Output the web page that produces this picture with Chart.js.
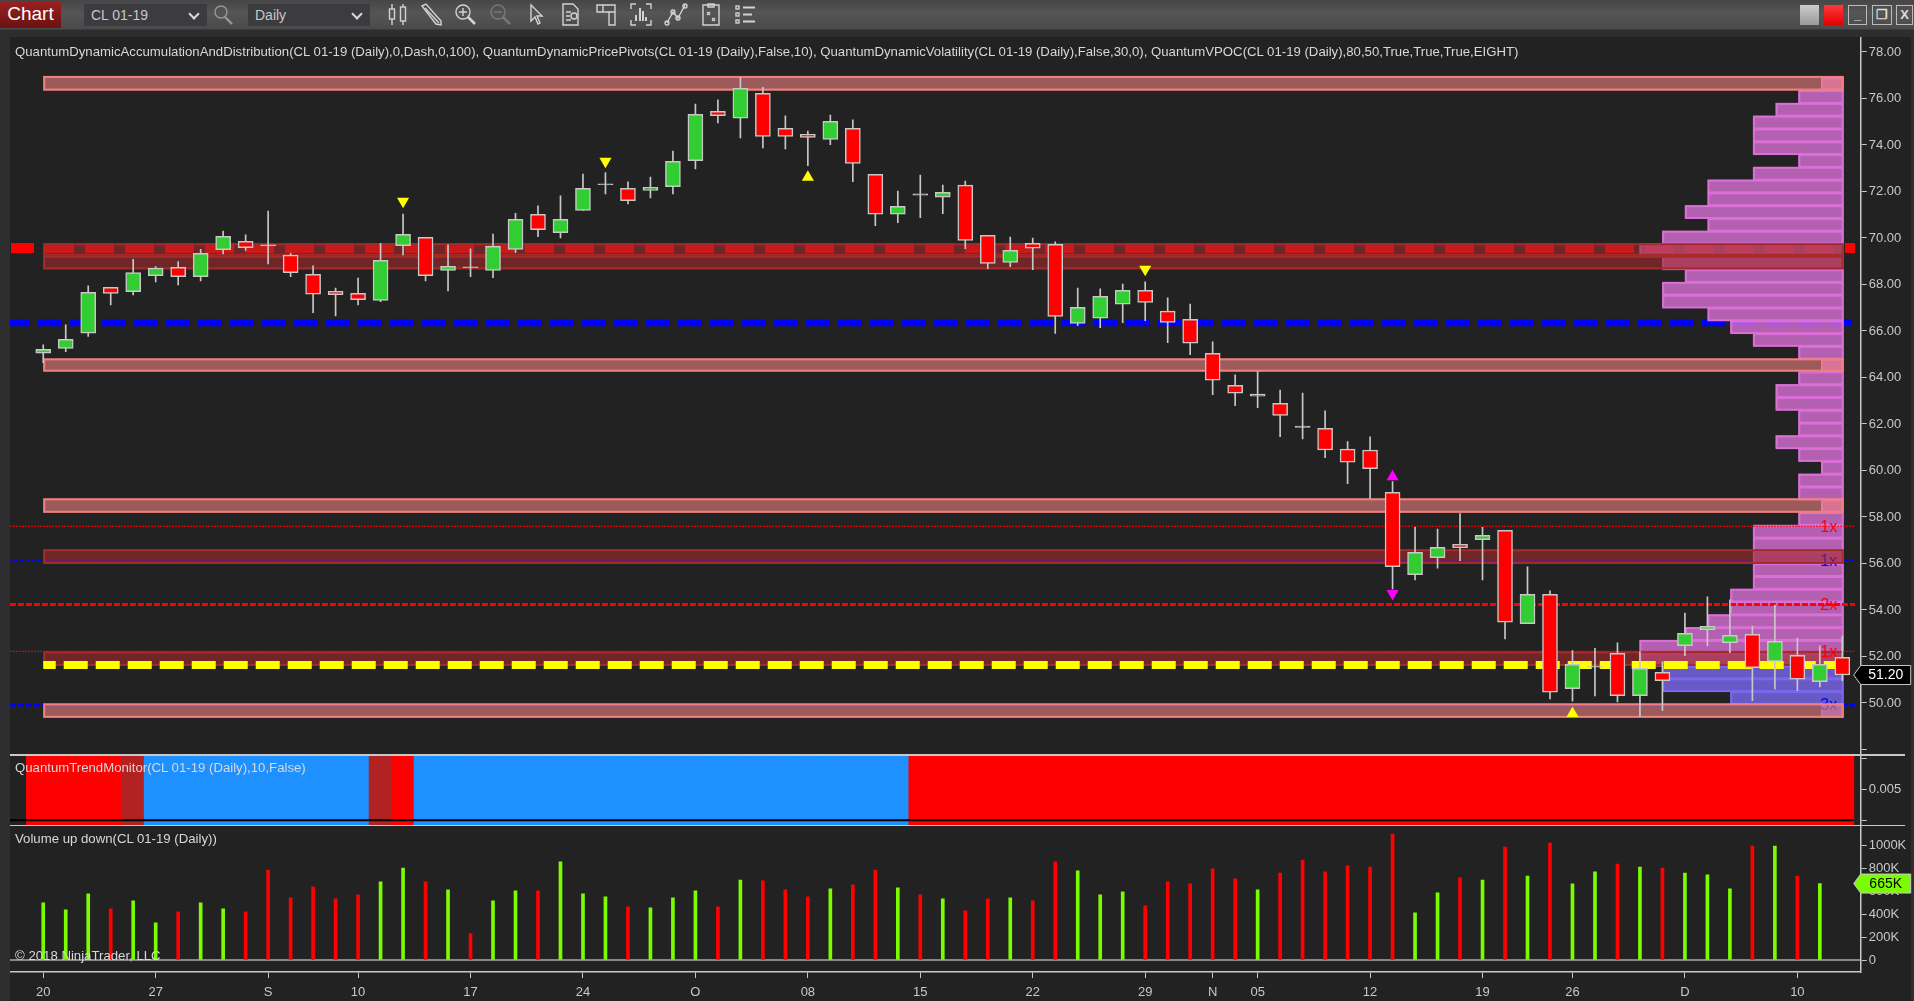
<!DOCTYPE html>
<html>
<head>
<meta charset="utf-8">
<title>CL 01-19 Daily</title>
<script src="https://cdn.jsdelivr.net/npm/chart.js@4"></script>
<style>
html,body{margin:0;padding:0;width:1914px;height:1001px;overflow:hidden;background:#2e2e31;font-family:"Liberation Sans",Arial,sans-serif;color:#d8d8d8}
#toolbar{position:absolute;left:0;top:0;width:1914px;height:29px;background:linear-gradient(#464646,#555 45%,#4a4a4a);border-bottom:1px solid #3a3a3a}
#toolbar svg{position:absolute;top:3px;width:24px;height:23px;fill:none;stroke:#d2d2d2;stroke-width:1.4}
.btn-chart{position:absolute;left:0;top:1px;width:61px;height:27px;background:linear-gradient(#9c2020,#6b1212);color:#fff;font-size:19px;line-height:26px;text-align:center}
.sel{position:absolute;top:4px;height:22px;background:#3c3c40;color:#c8c8c8;font-size:14px;line-height:22px;padding-left:7px;box-sizing:border-box}
.sel:after{content:"";position:absolute;right:9px;top:6px;width:6px;height:6px;border:solid #d8d8d8;border-width:0 2px 2px 0;transform:rotate(45deg)}
.winbtn{position:absolute;top:5px;height:20px;box-sizing:border-box;border:1px solid #bbb;color:#ddd;font-size:13px;line-height:17px;text-align:center;font-weight:bold}
#panelbg{position:absolute;left:10px;top:37px;width:1901px;height:964px;background:#222}
canvas{position:absolute;left:10px;display:block}
.sep{position:absolute;left:10px;height:1.5px;background:#c8c8c8}
.caption{position:absolute;left:15px;font-size:13.2px;line-height:15px;color:#d8d8d8;white-space:nowrap}
</style>
</head>
<body>
<div id="toolbar">
  <div class="btn-chart">Chart</div>
  <div class="sel" style="left:84px;width:123px">CL 01-19</div>
  <svg style="left:211px;opacity:.55" viewBox="0 0 24 23"><circle cx="10" cy="9" r="6"/><path d="M14 14l7 7" stroke-width="2.4"/></svg>
  <div class="sel" style="left:248px;width:122px">Daily</div>
  <svg style="left:386px" viewBox="0 0 24 23"><path d="M6 1v21M17 1v21"/><rect x="3.5" y="6" width="5" height="10" fill="#555"/><rect x="14.5" y="4" width="5" height="14" fill="#555"/></svg>
  <svg style="left:419px" viewBox="0 0 24 23"><path d="M3 3l4-2 15 17 0 4-5-1z"/><path d="M6 5l14 15"/></svg>
  <svg style="left:454px" viewBox="0 0 24 23"><circle cx="9" cy="9" r="7"/><path d="M9 5v8M5 9h8"/><path d="M14 14l7 7" stroke-width="2.6"/></svg>
  <svg style="left:489px;opacity:.3" viewBox="0 0 24 23"><circle cx="9" cy="9" r="7"/><path d="M5 9h8"/><path d="M14 14l7 7" stroke-width="2.6"/></svg>
  <svg style="left:524px" viewBox="0 0 24 23"><path d="M7 2l0 16 4-4 3 7 2-1-3-7 5 0z"/></svg>
  <svg style="left:559px" viewBox="0 0 24 23"><path d="M4 1h10l5 5v16H4z"/><path d="M7 9h5M7 13h4M7 17h5"/><circle cx="15" cy="13" r="3"/></svg>
  <svg style="left:594px" viewBox="0 0 24 23"><path d="M3 2h18v20h-6V9H3z"/><path d="M9 2v7M15 9h6"/></svg>
  <svg style="left:629px" viewBox="0 0 24 23"><path d="M2 6V1h5M17 1h5v5M2 17v5h5M17 22h5v-5"/><path d="M7 18v-6M11 18V5M14 18V8M17 18v-4" stroke-width="2"/></svg>
  <svg style="left:664px" viewBox="0 0 24 23"><path d="M3 20L9 9l5 6 7-13"/><circle cx="3" cy="20" r="2"/><circle cx="9" cy="9" r="2"/><circle cx="14" cy="15" r="2"/><circle cx="21" cy="3" r="2"/></svg>
  <svg style="left:699px" viewBox="0 0 24 23"><path d="M4 2h16v20H4z"/><path d="M9 1h6v3H9zM8 9l3 3M11 9l-3 3M13 15l3 3M16 15l-3 3"/></svg>
  <svg style="left:734px" viewBox="0 0 24 23"><rect x="2" y="3" width="3" height="3"/><rect x="2" y="10" width="3" height="3"/><rect x="2" y="17" width="3" height="3"/><path d="M9 4.5h12M9 11.500h9M9 18.500h12" stroke-width="2"/></svg>
  <div class="winbtn" style="left:1800px;width:19px;background:linear-gradient(#ccc,#999);border:0"></div>
  <div class="winbtn" style="left:1824px;width:19px;background:linear-gradient(#ff3a3a,#e00000);border:0"></div>
  <div class="winbtn" style="left:1848px;width:19px">_</div>
  <div class="winbtn" style="left:1872px;width:20px">&#10064;</div>
  <div class="winbtn" style="left:1896px;width:17px">X</div>
</div>
<div id="panelbg"></div>
<canvas id="chart-price" width="1904" height="718" style="top:37px;width:1904px;height:718px"></canvas>
<canvas id="chart-trend" width="1904" height="70" style="top:755px;width:1904px;height:70px"></canvas>
<canvas id="chart-volume" width="1904" height="176" style="top:825px;width:1904px;height:176px"></canvas>
<div class="sep" style="top:754px;width:1895px"></div>
<div class="sep" style="top:824.500px;width:1895px"></div>
<div class="caption" style="top:44px">QuantumDynamicAccumulationAndDistribution(CL 01-19 (Daily),0,Dash,0,100), QuantumDynamicPricePivots(CL 01-19 (Daily),False,10), QuantumDynamicVolatility(CL 01-19 (Daily),False,30,0), QuantumVPOC(CL 01-19 (Daily),80,50,True,True,True,EIGHT)</div>
<div class="caption" style="top:760px">QuantumTrendMonitor(CL 01-19 (Daily),10,False)</div>
<div class="caption" style="top:831px">Volume up down(CL 01-19 (Daily))</div>
<div class="caption" style="top:948px">© 2018 NinjaTrader, LLC</div>

<script>
// ── data ───────────────────────────────────────────────────────────────────
const candleOpen=[65.04,65.25,65.90,67.88,67.69,68.38,68.74,68.34,69.50,69.86,69.70,69.26,68.44,67.71,67.62,67.31,69.67,70.03,68.60,68.76,
  68.60,69.51,71.02,70.23,71.18,72.33,72.14,72.05,72.21,73.33,75.45,75.15,76.22,74.72,74.46,74.24,74.72,72.74,71.02,71.90,
  71.75,72.27,70.11,68.95,69.77,69.73,66.32,66.55,67.15,67.75,66.85,66.50,65.04,63.66,63.19,62.89,61.91,61.81,60.92,60.88,
  59.06,55.52,56.25,56.82,57.02,57.42,53.41,54.67,50.61,51.58,52.13,50.31,51.32,52.46,53.15,52.59,52.95,51.79,52.05,50.91,51.96];
const candleHigh=[65.40,66.26,67.94,67.88,69.08,68.77,68.98,69.51,70.30,70.13,71.16,69.34,68.80,67.84,68.28,69.77,71.03,70.03,69.70,69.53,
  70.17,71.06,71.38,71.81,72.75,72.81,72.41,72.62,73.74,75.76,75.94,76.91,76.48,75.25,74.60,75.29,75.08,72.74,72.02,72.71,
  72.28,72.45,70.11,70.04,70.00,69.83,67.85,67.81,68.02,68.11,67.42,67.16,65.53,64.11,64.25,63.46,63.33,62.56,61.24,61.45,
  59.52,57.55,57.48,58.15,57.55,57.42,55.85,54.82,52.25,52.35,52.58,52.21,51.77,53.87,54.56,54.43,53.31,54.21,52.79,52.45,52.88];
const candleLow=[64.64,65.11,65.76,67.12,67.55,68.11,67.98,68.15,69.31,69.46,68.88,68.34,66.79,66.65,67.12,67.26,69.27,68.15,67.72,68.34,
  68.29,69.37,70.06,70.00,71.18,71.89,71.46,71.72,71.89,72.97,74.95,74.30,73.87,73.83,73.11,74.01,72.42,70.53,70.66,70.87,
  71.05,69.54,68.68,68.77,68.64,65.89,66.23,66.14,66.36,66.44,65.50,64.98,63.26,62.79,62.70,61.45,61.36,60.55,59.43,58.80,
  54.90,55.29,55.80,56.12,55.29,52.75,53.41,50.17,50.08,50.30,50.04,49.41,49.67,52.03,52.46,52.16,50.10,50.60,50.53,50.69,50.96];
const candleClose=[65.21,65.64,67.66,67.62,68.51,68.70,68.34,69.34,70.07,69.58,69.66,68.51,67.58,67.56,67.35,69.04,70.16,68.38,68.78,68.72,
  69.64,70.80,70.36,70.80,72.14,72.29,71.61,72.18,73.30,75.32,75.26,76.44,74.37,74.37,74.33,75.02,73.21,71.02,71.36,71.84,
  71.96,69.90,68.91,69.47,69.56,66.63,67.02,67.49,67.75,67.23,66.37,65.47,63.88,63.32,63.28,62.37,61.85,60.88,60.36,60.08,
  55.86,56.48,56.69,56.68,57.21,53.47,54.67,50.46,51.66,51.54,50.31,51.49,50.96,52.99,53.30,52.91,51.52,52.65,51.02,51.66,51.20];

// volume in thousands, one short of the candles: the last session has no bar
const volumeK=[497,436,575,445,514,324,419,497,445,419,783,540,636,532,566,679,800,679,610,228,
  514,601,601,853,575,549,462,454,540,601,462,696,688,610,549,618,653,783,627,566,
  532,428,532,540,514,853,775,566,592,471,679,662,792,705,610,757,870,766,818,809,
  1095,410,584,714,696,983,731,1017,662,766,835,809,800,757,740,618,991,991,731,665];
const volumeUp=[1,1,1,0,1,1,0,1,1,0,0,0,0,0,0,1,1,0,1,0,
  1,1,0,1,1,1,0,1,1,1,0,1,0,0,0,1,0,0,1,0,
  1,0,0,1,0,0,1,1,1,0,0,0,0,0,1,0,0,0,0,0,
  0,1,1,0,1,0,1,0,1,1,0,1,0,1,1,1,0,1,0,1];

// x ticks sit on bar numbers
const dateTickIdx=[0,5,10,14,19,24,29,34,39,44,49,52,54,59,64,68,73,78];
const dateTickLabels=['20','27','S','10','17','24','O','08','15','22','29','N','05','12','19','26','D','10'];
const priceTicks=[48,50,52,54,56,58,60,62,64,66,68,70,72,74,76,78];
const trendTicks=[0,0.005,0.01];
const volumeTicks=[0,200,400,600,800,1000];

// trend monitor: bar number and state (0 red, 1 brown, 2 blue)
const trendIdx=[-0.24,0,1,2,3,4,5,6,7,8,9,10,11,12,13,14,15,16,17,18,19,20,21,22,23,24,25,26,27,28,29,30,31,32,33,34,35,36,37,38,39,40,41,42,43,44,45,46,47,48,49,50,51,52,53,54,55,56,57,58,59,60,61,62,63,64,65,66,67,68,69,70,71,72,73,74,75,76,77,78,79,80];
const trendState=[0,0,0,0,0,1,2,2,2,2,2,2,2,2,2,2,1,0,2,2,2,2,2,2,2,2,2,2,2,2,2,2,2,2,2,2,2,2,2,2,0,0,0,0,0,0,0,0,0,0,0,0,0,0,0,0,0,0,0,0,0,0,0,0,0,0,0,0,0,0,0,0,0,0,0,0,0,0,0,0,0,0];
const trendColors=['#ff0000','#b22222','#1e90ff'];

// supply and demand zones
const zoneHigh=[76.97,69.77,69.23,64.82,58.80,56.61,52.22,49.98];
const zoneLow=[76.34,69.23,68.65,64.25,58.18,55.98,51.59,49.36];
const zoneLight=[1,0,0,1,1,0,0,1];

// volume profile rows, top down, counted in bar widths
const profileTop=76.91;
const profileStep=0.55;
const profileCount=[1,2,3,4,4,4,2,4,6,6,7,6,8,9,8,7,8,8,6,5,4,2,1,2,3,3,2,2,3,2,1,2,2,1,2,4,4,4,4,4,5,5,6,7,9,9,8,8,5,1];
const profileBlueFrom=46;

// price pivots
const pivotPrice=[57.60,56.13,54.23,52.22,49.91];
const pivotLabel=['1x','1x','2x','1x','3x'];
const pivotBlue=[0,1,0,0,1];
const pivotWidth=[1,1,3,1,3];

const vpocRed=69.57, vpocBlue=66.35, vpocYellow=51.63;

// arrows
const markIdx=[16,25,34,49,68,60,60];
const markPrice=[71.58,73.30,72.61,68.65,49.55,59.73,54.71];
const markDown=[1,1,0,1,0,0,1];
const markColor=['#ffff00','#ffff00','#ffff00','#ffff00','#ffff00','#ff00ff','#ff00ff'];

const lastPrice=51.20, lastVolumeK=665;

// ── shared scale setup ─────────────────────────────────────────────────────
const X_MIN=-1.478, X_MAX=80.816, ZONE_FROM=0, ZONE_TO=80.06, PROFILE_UNIT=1.009, PIVOT_TO=80.56;
const AXIS_W=53.3;
const FONT={family:'"Liberation Sans",Arial,sans-serif',size:13};
const TEXT='#c8c8c8';

// Chart.js pads the plot for half a label even when no label reaches the edge
const noPadding=s=>{s.paddingLeft=0;s.paddingRight=0;s.paddingTop=0;s.paddingBottom=0;};

const xScale=(show)=>({type:'linear',min:X_MIN,max:X_MAX,display:show,offset:false,
  afterBuildTicks:s=>{s.ticks=dateTickIdx.map(v=>({value:v}));},
  afterFit:s=>{if(show) s.height=29;noPadding(s);},
  border:{display:true,color:TEXT,width:1.5},
  grid:{offset:false,drawOnChartArea:false,drawTicks:true,tickLength:6,color:TEXT},
  ticks:{autoSkip:false,maxRotation:0,color:TEXT,font:FONT,padding:7,
    callback:v=>dateTickLabels[dateTickIdx.indexOf(v)]||''}
});
const yScale=(min,max,values,label)=>({type:'linear',position:'right',min,max,
  afterBuildTicks:s=>{s.ticks=values.map(v=>({value:v}));},
  afterFit:s=>{s.width=AXIS_W;noPadding(s);},
  border:{display:true,color:TEXT,width:1.5},
  grid:{drawOnChartArea:false,drawTicks:true,tickLength:6,color:TEXT},
  ticks:{autoSkip:false,color:TEXT,font:FONT,padding:2,callback:label}
});
const baseOptions=(scales)=>({responsive:false,animation:false,devicePixelRatio:1,
  layout:{padding:0,autoPadding:false},events:[],
  plugins:{legend:{display:false},tooltip:{enabled:false},title:{display:false}},
  scales});

// the pointed value tag on the axis
function axisTag(chart,value,text,fill,stroke,color){
  const c=chart.ctx, s=chart.scales.y, y=s.getPixelForValue(value), x=s.left-7, h=9.5;
  c.save();
  c.beginPath();
  c.moveTo(x,y);c.lineTo(x+7,y-h);c.lineTo(x+57,y-h);c.lineTo(x+57,y+h);c.lineTo(x+7,y+h);c.closePath();
  c.fillStyle=fill;c.fill();
  c.strokeStyle=stroke;c.lineWidth=1;c.stroke();
  c.fillStyle=color;c.font='14px "Liberation Sans",Arial,sans-serif';c.textAlign='center';c.textBaseline='middle';
  c.fillText(text,x+32,y+0.5);
  c.restore();
}

function dashLine(c,x0,x1,y,width,color,dash,offset){
  c.save();
  c.beginPath();c.moveTo(x0,y);c.lineTo(x1,y);
  c.strokeStyle=color;c.lineWidth=width;c.setLineDash(dash);c.lineDashOffset=offset||0;c.stroke();
  c.restore();
}

// ── price panel overlays: lines under the profile, then profile, zones, rest ──
const priceLayers={
  id:'priceLayers',
  beforeDatasetsDraw(chart){
    const c=chart.ctx, xs=chart.scales.x, ys=chart.scales.y;
    const px=v=>xs.getPixelForValue(v), py=v=>ys.getPixelForValue(v);
    const right=px(ZONE_TO), pivotEnd=px(PIVOT_TO);

    dashLine(c,xs.left+1,pivotEnd,py(vpocRed),10,'#ff0000',[29,11],6);
    dashLine(c,xs.left,pivotEnd-3,py(vpocBlue),7,'#0000ff',[24,8],4);

    const pivotLine=(i)=>{
      const col=pivotBlue[i]?'#0000ff':'#ff0000';
      dashLine(c,xs.left,pivotEnd,py(pivotPrice[i]),pivotWidth[i],col,pivotWidth[i]>1?[6,2]:[2,1]);
    };
    const pivotText=(i)=>{
      c.fillStyle=pivotBlue[i]?'#0000ff':'#ff0000';
      c.font='16px "Liberation Sans",Arial,sans-serif';c.textAlign='center';c.textBaseline='middle';
      c.fillText(pivotLabel[i],right-15,py(pivotPrice[i])+1);
    };
    pivotPrice.forEach((p,i)=>{if(pivotBlue[i]) pivotLine(i);});

    profileCount.forEach((n,i)=>{
      const top=py(profileTop-profileStep*i), bot=py(profileTop-profileStep*(i+1));
      const left=px(ZONE_TO-n*PROFILE_UNIT);
      const blue=i>=profileBlueFrom;
      c.fillStyle=blue?'rgba(123,104,238,.8)':'rgba(218,112,214,.8)';
      c.fillRect(left,top,right-left,bot-top);
      c.strokeStyle=blue?'#7b68ee':'#da70d6';c.lineWidth=2;
      c.strokeRect(left+1,top+1,right-left-2,bot-top-1);
    });

    pivotPrice.forEach((p,i)=>{if(pivotBlue[i]) pivotText(i);});

    zoneHigh.forEach((h,i)=>{
      const top=py(h), bot=py(zoneLow[i]), left=px(ZONE_FROM);
      const light=zoneLight[i];
      c.fillStyle=light?'rgba(240,128,128,.6)':'rgba(165,42,42,.6)';
      c.fillRect(left,top,right-left,bot-top);
      c.strokeStyle=light?'#f08080':'#a52a2a';c.lineWidth=2;
      c.strokeRect(left+1,top+1,right-left-2,bot-top-2);
    });

    dashLine(c,px(ZONE_FROM),right,py(vpocYellow),8,'#ffff00',[24,8],11.5);
    pivotPrice.forEach((p,i)=>{if(!pivotBlue[i]){pivotLine(i);pivotText(i);}});
  },
  afterDraw(chart){axisTag(chart,lastPrice,lastPrice.toFixed(2),'#000','#c8c8c8','#fff');}
};

// ── candles as floating bars ───────────────────────────────────────────────
const bars=candleOpen.map((o,i)=>i);
const candleFill=i=>{
  const d=candleClose[i]-candleOpen[i];
  if(Math.abs(d)<0.07) return '#c8c8c8'; // dojis are just a flat tick
  return d>0?'#32cd32':'#ff0000';
};

new Chart(document.getElementById('chart-price'),{
  type:'bar',
  data:{datasets:[
    {type:'bar',label:'Range',order:3,grouped:false,barThickness:1,backgroundColor:'#c8c8c8',
      data:bars.map(i=>({x:i,y:[candleLow[i],candleHigh[i]]}))},
    {type:'bar',label:'Body',order:2,grouped:false,barThickness:15,borderWidth:1.5,borderSkipped:false,borderColor:'#c8c8c8',
      backgroundColor:bars.map(candleFill),
      data:bars.map(i=>({x:i,y:[candleOpen[i],candleClose[i]]}))},
    {type:'scatter',label:'Signals',order:1,showLine:false,pointStyle:'triangle',pointRadius:7,pointBorderWidth:0,
      pointBackgroundColor:markColor,pointRotation:markDown.map(d=>d?180:0),
      data:markIdx.map((x,i)=>({x,y:markPrice[i]}))}
  ]},
  options:baseOptions({x:xScale(false),y:yScale(47.76,78.645,priceTicks,v=>v===48?'':v.toFixed(2))}),
  plugins:[priceLayers]
});

// ── trend monitor ──────────────────────────────────────────────────────────
new Chart(document.getElementById('chart-trend'),{
  type:'bar',
  data:{datasets:[
    {type:'line',label:'Zero',order:1,borderColor:'#000',borderWidth:2,pointRadius:0,
      data:[{x:X_MIN,y:0},{x:80.5,y:0}]},
    {type:'bar',label:'Trend',order:2,grouped:false,barThickness:23,
      backgroundColor:trendState.map(s=>trendColors[s]),
      data:trendIdx.map(x=>({x,y:[-0.00076,0.01057]}))}
  ]},
  options:baseOptions({x:xScale(false),y:yScale(-0.00076,0.01057,trendTicks,v=>v===0.005?'0.005':'')})
});

// ── volume ─────────────────────────────────────────────────────────────────
new Chart(document.getElementById('chart-volume'),{
  type:'bar',
  data:{datasets:[
    {type:'line',label:'Base',order:2,borderColor:'#aaa',borderWidth:1.5,pointRadius:0,
      data:[{x:X_MIN,y:0},{x:X_MAX,y:0}]},
    {type:'bar',label:'Volume',order:1,grouped:false,barThickness:3,
      backgroundColor:volumeUp.map(u=>u?'#7cfc00':'#ff0000'),
      data:volumeK.map((y,x)=>({x,y}))}
  ]},
  options:baseOptions({x:xScale(true),y:yScale(-104,1174,volumeTicks,v=>v===0?'0':v+'K')}),
  plugins:[{id:'volumeTag',afterDraw(chart){axisTag(chart,lastVolumeK,lastVolumeK+'K','#7cfc00','#c8c8c8','#000');}}]
});
</script>
</body>
</html>
